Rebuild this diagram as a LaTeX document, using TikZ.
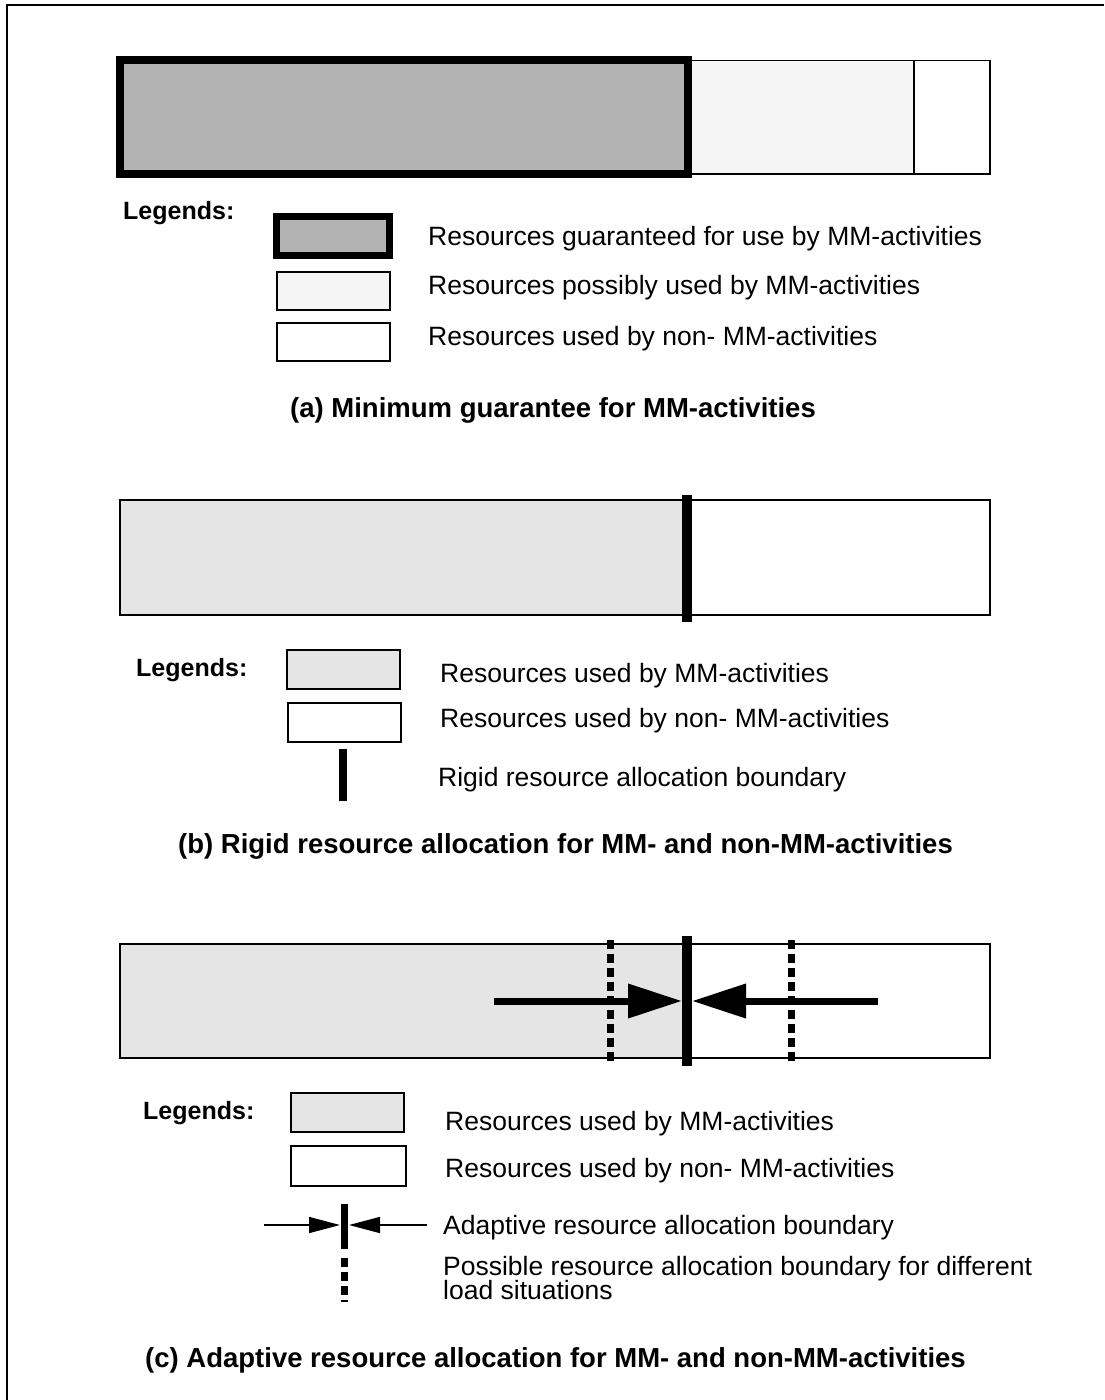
\documentclass[tikz,border=0pt]{standalone}
\usepackage{fontspec}
\setmainfont{Liberation Sans}
\usetikzlibrary{arrows.meta}
\definecolor{guarfill}{HTML}{B3B3B3}
\definecolor{possfill}{HTML}{F5F5F5}
\definecolor{mmfill}{HTML}{E5E5E5}
\begin{document}
\begin{tikzpicture}[x=1pt,y=-1pt,
  thinbox/.style={draw=black,line width=1.6pt},
  thickbox/.style={draw=black,line width=8pt},
  lbl/.style={anchor=base west,inner sep=0pt,font=\fontsize{26.5}{30}\selectfont},
  heading/.style={anchor=base,inner sep=0pt,font=\fontsize{27.5}{32}\selectfont\bfseries},
  legendhead/.style={anchor=base west,inner sep=0pt,font=\fontsize{25}{30}\selectfont\bfseries},
  boundary/.style={line width=10pt},
  dashbound/.style={line width=7pt,dash pattern=on 9pt off 5pt},
  bigarrow/.style={line width=7pt,-{Triangle[length=54pt,width=33pt]}},
  smallarrow/.style={line width=1.6pt,-{Triangle[length=31pt,width=16pt]}},
]
\useasboundingbox (0,0) rectangle (1104,1400);
\fill[white] (0,0) rectangle (1104,1400);
% outer frame
\draw[line width=2pt] (7,1400) -- (7,5) -- (1104,5);

% ---------- (a) minimum guarantee ----------
\draw[thinbox,fill=possfill] (688,60.5) rectangle (914,174);
\draw[thinbox,fill=white] (914,60.5) rectangle (990,174);
\draw[thickbox,fill=guarfill] (120,60) rectangle (688,174);

\node[legendhead] (legA) at (123,219) {Legends:};
\draw[line width=7pt,fill=guarfill] (276.5,216.5) rectangle (389.5,255.5);
\node[lbl] (a1) at (428,245) {Resources guaranteed for use by MM-activities};
\draw[thinbox,fill=possfill] (277,272) rectangle (390,310);
\node[lbl] (a2) at (428,294) {Resources possibly used by MM-activities};
\draw[thinbox,fill=white] (277,323) rectangle (390,361);
\node[lbl] (a3) at (428,345) {Resources used by non- MM-activities};
\node[heading] (capA) at (553,417) {(a) Minimum guarantee for MM-activities};

% ---------- (b) rigid allocation ----------
\fill[mmfill] (120,500) rectangle (687,615);
\draw[thinbox] (120,500) rectangle (990,615);
\draw[boundary] (687,495) -- (687,622);

\node[legendhead] (legB) at (136,676) {Legends:};
\draw[thinbox,fill=mmfill] (287,650) rectangle (400,689);
\node[lbl] (b1) at (440,682) {Resources used by MM-activities};
\draw[thinbox,fill=white] (288,703) rectangle (401,742);
\node[lbl] (b2) at (440,727) {Resources used by non- MM-activities};
\draw[line width=8pt] (343,749) -- (343,801);
\node[lbl] (b3) at (438,786) {Rigid resource allocation boundary};
\node[heading] (capB) at (565.5,853) {(b) Rigid resource allocation for MM- and non-MM-activities};

% ---------- (c) adaptive allocation ----------
\fill[mmfill] (120,944) rectangle (687,1058);
\draw[thinbox] (120,944) rectangle (990,1058);
\draw[dashbound] (610,940) -- (610,1063);
\draw[dashbound] (791,940) -- (791,1063);
\draw[boundary] (687,936) -- (687,1066);
\coordinate (pushL) at (494,1001);
\coordinate (pushR) at (878,1001);
\coordinate (meetL) at (682,1001);
\coordinate (meetR) at (692,1001);
\draw[bigarrow] (pushL) -- (meetL);
\draw[bigarrow] (pushR) -- (meetR);

\node[legendhead] (legC) at (143,1119) {Legends:};
\draw[thinbox,fill=mmfill] (291,1093) rectangle (404,1132);
\node[lbl] (c1) at (445,1130) {Resources used by MM-activities};
\draw[thinbox,fill=white] (291,1146) rectangle (406,1186);
\node[lbl] (c2) at (445,1177) {Resources used by non- MM-activities};
\draw[line width=7.5pt] (344.5,1204) -- (344.5,1249);
\coordinate (keyL) at (264,1225);
\coordinate (keyR) at (427,1225);
\coordinate (keyML) at (340,1225);
\coordinate (keyMR) at (349,1225);
\draw[smallarrow] (keyL) -- (keyML);
\draw[smallarrow] (keyR) -- (keyMR);
\node[lbl] (c3) at (443,1234) {Adaptive resource allocation boundary};
\draw[dashbound] (344,1258) -- (344,1302);
\node[lbl] (c4) at (443,1275) {Possible resource allocation boundary for different};
\node[lbl] (c5) at (443,1299) {load situations};
\node[heading] (capC) at (555.5,1367) {(c) Adaptive resource allocation for MM- and non-MM-activities};
\end{tikzpicture}
\end{document}
